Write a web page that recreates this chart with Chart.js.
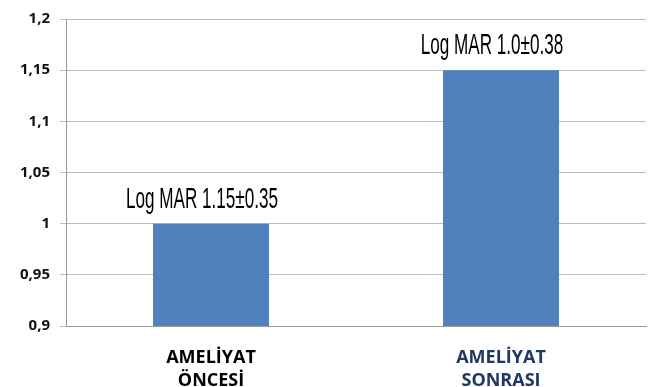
<!DOCTYPE html>
<html>
<head>
<meta charset="utf-8">
<script src="https://cdn.jsdelivr.net/npm/chart.js@4/dist/chart.umd.min.js"></script>
<style>
  html, body { margin: 0; padding: 0; background: #fff; }
  #wrap { width: 651px; height: 387px; }
</style>
</head>
<body>
<div id="wrap"><canvas id="chart"></canvas></div>
<script>
// --------------------
// Data
// --------------------
const categories = [['AMELİYAT', 'ÖNCESİ'], ['AMELİYAT', 'SONRASI']];
const values = [1.0, 1.15];
const barNotes = ['Log MAR 1.15±0.35', 'Log MAR 1.0±0.38'];
const categoryColors = ['#000000', '#1F3864'];
const yMin = 0.9, yMax = 1.2, yStep = 0.05;

// --------------------
// Plugin: text above each bar (condensed look by squeezing x)
// --------------------
const barNotesPlugin = {
  id: 'barNotes',
  afterDatasetsDraw(chart) {
    const ctx = chart.ctx;
    const meta = chart.getDatasetMeta(0);
    const sx = 0.57;
    ctx.save();
    ctx.font = '30px "Liberation Sans", sans-serif';
    ctx.fillStyle = '#000';
    ctx.textAlign = 'center';
    ctx.textBaseline = 'alphabetic';
    meta.data.forEach((bar, i) => {
      ctx.save();
      ctx.translate(bar.x - 9, bar.y - 16);
      ctx.scale(sx, 1);
      ctx.fillText(barNotes[i], 0, 0);
      ctx.restore();
    });
    ctx.restore();
  }
};

const ctx = document.getElementById('chart').getContext('2d');
new Chart(ctx, {
  type: 'bar',
  data: {
    labels: categories,
    datasets: [{
      data: values,
      backgroundColor: '#4F81BD',
      borderWidth: 0,
      categoryPercentage: 1,
      barPercentage: 0.4
    }]
  },
  options: {
    responsive: true,
    maintainAspectRatio: false,
    animation: false,
    layout: { padding: { top: 19, right: 5, left: 0, bottom: 0 } },
    plugins: {
      legend: { display: false },
      tooltip: { enabled: false }
    },
    scales: {
      x: {
        grid: { display: false },
        border: { display: true, color: '#999' },
        ticks: {
          color: categoryColors,
          padding: 12,
          maxRotation: 0,
          font: { family: '"Open Sans", sans-serif', size: 18, weight: 'bold', lineHeight: 1.3 }
        },
        afterFit(scale) { scale.height = 61; }
      },
      y: {
        min: yMin,
        max: yMax,
        grid: { color: '#bdbdbd', tickLength: 6 },
        border: { display: true, color: '#999' },
        ticks: {
          stepSize: yStep,
          color: '#111',
          padding: 10,
          font: { family: '"Open Sans", sans-serif', size: 15, weight: 'bold' },
          callback: v => String(Number(v.toFixed(2))).replace('.', ',')
        },
        afterFit(scale) { scale.width = 66; }
      }
    }
  },
  plugins: [barNotesPlugin]
});
</script>
</body>
</html>
